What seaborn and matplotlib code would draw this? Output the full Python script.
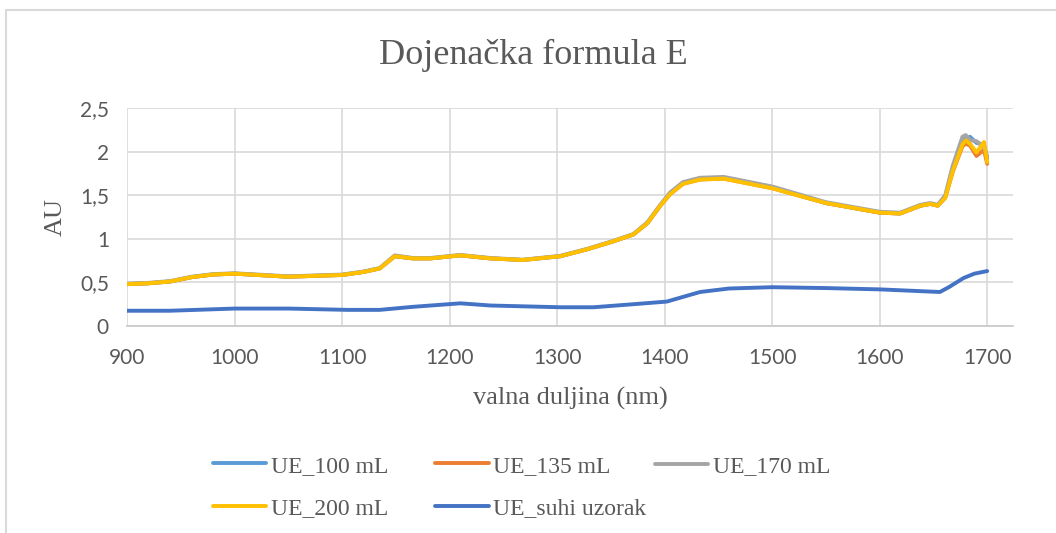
import numpy as np
import pandas as pd
import matplotlib
matplotlib.use("Agg")
import matplotlib.pyplot as plt
from matplotlib.lines import Line2D
from matplotlib.patches import Rectangle
import seaborn as sns

# wavelength grid (nm) for the wet samples
wl = [900, 920, 940, 960, 980, 1000, 1050, 1100, 1120, 1135, 1149, 1166, 1182,
      1210, 1238, 1268, 1303, 1328, 1352, 1371, 1384, 1396, 1405, 1417, 1433,
      1455, 1500, 1550, 1600, 1619, 1638, 1647, 1654, 1661, 1668, 1677, 1680,
      1684, 1690, 1697, 1700]

ue_100 = [0.48, 0.49, 0.51, 0.56, 0.59, 0.60, 0.565, 0.585, 0.62, 0.66, 0.80, 0.775, 0.775,
          0.81, 0.775, 0.757, 0.80, 0.88, 0.97, 1.05, 1.18, 1.38, 1.52, 1.64, 1.69,
          1.70, 1.59, 1.41, 1.30, 1.29, 1.38, 1.40, 1.38, 1.48, 1.80, 2.12, 2.15,
          2.17, 2.10, 2.08, 1.92]
ue_135 = [0.48, 0.49, 0.51, 0.56, 0.59, 0.60, 0.565, 0.585, 0.62, 0.66, 0.80, 0.775, 0.775,
          0.81, 0.775, 0.757, 0.80, 0.88, 0.97, 1.05, 1.18, 1.38, 1.51, 1.63, 1.68,
          1.69, 1.58, 1.41, 1.30, 1.29, 1.38, 1.40, 1.38, 1.47, 1.77, 2.06, 2.09,
          2.07, 1.95, 2.02, 1.86]
ue_170 = [0.485, 0.495, 0.515, 0.565, 0.595, 0.605, 0.57, 0.59, 0.625, 0.665, 0.81, 0.78, 0.78,
          0.815, 0.78, 0.76, 0.805, 0.885, 0.975, 1.055, 1.19, 1.39, 1.53, 1.65, 1.70,
          1.71, 1.60, 1.42, 1.31, 1.30, 1.39, 1.41, 1.39, 1.50, 1.84, 2.17, 2.19,
          2.13, 2.12, 2.05, 1.95]
ue_200 = [0.48, 0.49, 0.51, 0.56, 0.59, 0.60, 0.565, 0.585, 0.62, 0.66, 0.80, 0.775, 0.775,
          0.81, 0.775, 0.757, 0.80, 0.88, 0.97, 1.05, 1.18, 1.38, 1.51, 1.63, 1.68,
          1.69, 1.58, 1.41, 1.30, 1.29, 1.38, 1.40, 1.38, 1.47, 1.78, 2.08, 2.13,
          2.09, 1.99, 2.11, 1.88]

# dry sample
wl_dry = [900, 940, 1000, 1050, 1105, 1135, 1166, 1210, 1238, 1303, 1334, 1371,
          1402, 1433, 1460, 1500, 1550, 1600, 1656, 1665, 1678, 1688, 1700]
ue_suhi = [0.175, 0.175, 0.20, 0.20, 0.185, 0.185, 0.22, 0.26, 0.235, 0.215, 0.215, 0.25,
           0.28, 0.39, 0.43, 0.445, 0.435, 0.42, 0.39, 0.45, 0.55, 0.60, 0.63]

series_names = ["UE_100 mL", "UE_135 mL", "UE_170 mL", "UE_200 mL", "UE_suhi uzorak"]
colors = ["#5B9BD5", "#ED7D31", "#A5A5A5", "#FFC000", "#4472C4"]
x_ticks = [900, 1000, 1100, 1200, 1300, 1400, 1500, 1600, 1700]
y_ticks = [0, 0.5, 1, 1.5, 2, 2.5]
y_tick_labels = ["0", "0,5", "1", "1,5", "2", "2,5"]

frames = []
for name, xs, ys in zip(series_names,
                        [wl, wl, wl, wl, wl_dry],
                        [ue_100, ue_135, ue_170, ue_200, ue_suhi]):
    frames.append(pd.DataFrame({"wl": xs, "AU": ys, "uzorak": name}))
df = pd.concat(frames, ignore_index=True)

sns.set_theme(style="whitegrid")
plt.rcParams["font.family"] = ["Liberation Serif", "DejaVu Serif"]

fig = plt.figure(figsize=(10.56, 5.33), dpi=100)
ax = fig.add_axes([127 / 1056, 1 - 326 / 533, (1013 - 127) / 1056, (326 - 108) / 533])

sns.lineplot(data=df, x="wl", y="AU", hue="uzorak", hue_order=series_names,
             palette=colors, linewidth=2.8, estimator=None, sort=False,
             legend=False, ax=ax)

ax.set_xlim(900, 1724)
ax.set_ylim(0, 2.5)
ax.set_xticks(x_ticks)
ax.set_yticks(y_ticks)
ax.set_yticklabels(y_tick_labels)
for lab in ax.get_xticklabels() + ax.get_yticklabels():
    lab.set_fontfamily("Lato")
    lab.set_fontsize(15)
    lab.set_color("#595959")
ax.tick_params(axis="x", length=0, pad=16)
ax.tick_params(axis="y", length=0, pad=13)

ax.grid(True, color="#D9D9D9", linewidth=1.2)
ax.set_axisbelow(True)
for s in ["top", "right", "left"]:
    ax.spines[s].set_visible(False)
ax.spines["bottom"].set_color("#C8C8C8")
ax.spines["bottom"].set_linewidth(1.2)
ax.set_facecolor("white")

ax.set_xlabel("valna duljina (nm)", fontsize=19, color="#595959")
ax.set_ylabel("AU", fontsize=19, color="#595959")
ax.xaxis.set_label_coords(0.5, -0.28)
ax.yaxis.set_label_coords(-0.068, 0.5)

fig.text(533 / 1056, 1 - 55 / 533, "Dojenačka formula E", fontsize=26,
         color="#595959", ha="center", va="center")

# legend: Excel grid layout, first two columns in one legend, third separately
handles = [Line2D([0], [0], color=c, lw=2.8) for c in colors]
leg_kw = dict(frameon=False, fontsize=17, handlelength=2.25, handletextpad=0.2,
              labelspacing=0.88, borderpad=0, borderaxespad=0,
              labelcolor="#595959")
order = [0, 3, 1, 4]
fig.legend([handles[i] for i in order], [series_names[i] for i in order],
           loc="center left", bbox_to_anchor=(213 / 1056, 1 - 487 / 533),
           ncol=2, columnspacing=2.0, **leg_kw)
fig.legend([handles[2]], [series_names[2]],
           loc="center left", bbox_to_anchor=(655 / 1056, 1 - 466 / 533),
           **leg_kw)

# chart area border
fig.patches.append(Rectangle((6 / 1056, -0.1), 1.2, 1 - 10 / 533 + 0.1,
                             transform=fig.transFigure, fill=False,
                             edgecolor="#D9D9D9", linewidth=1.5))

fig.savefig("out.png", dpi=100, facecolor="white")
